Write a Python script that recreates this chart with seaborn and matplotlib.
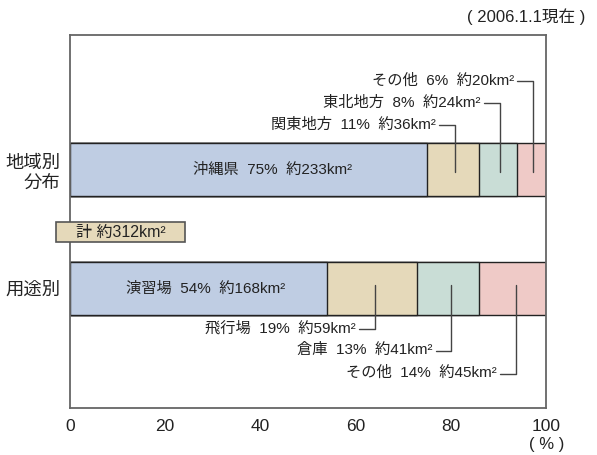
import matplotlib
matplotlib.use("Agg")
import matplotlib.pyplot as plt
import seaborn as sns
import pandas as pd
import numpy as np
from matplotlib.patches import Rectangle

# ---- data -------------------------------------------------------------
groups = ["地域別\n分布", "用途別"]

region_names = ["沖縄県", "関東地方", "東北地方", "その他"]
region_pct = [75, 11, 8, 6]
region_area = [233, 36, 24, 20]

use_names = ["演習場", "飛行場", "倉庫", "その他"]
use_pct = [54, 19, 13, 14]
use_area = [168, 59, 41, 45]

total_area = 312
x_ticks = [0, 20, 40, 60, 80, 100]

seg_colors = ["#bfcde3", "#e5d9ba", "#c9ddd6", "#efcac7"]

# ---- fonts ------------------------------------------------------------
sns.set_theme(style="white")
plt.rcParams["font.family"] = ["Liberation Sans", "Noto Sans CJK JP"]
text_color = "#222222"
frame_color = "#666666"

# ---- build stacked table ---------------------------------------------
rows = []
for g, names, pcts, areas in [(groups[0], region_names, region_pct, region_area),
                              (groups[1], use_names, use_pct, use_area)]:
    cum = np.cumsum(pcts)
    for k, (n, p, a) in enumerate(zip(names, pcts, areas)):
        rows.append(dict(group=g, seg=k, name=n, pct=p, area=a,
                         end=cum[k], start=cum[k] - p))
df = pd.DataFrame(rows)

fig = plt.figure(figsize=(5.97, 4.55), dpi=100)
ax = fig.add_axes([70 / 597, 1 - 408 / 455, 476 / 597, 373 / 455])

bar_h = 0.445
# draw cumulative bars from the last segment to the first so each boundary shows
for k in reversed(range(4)):
    sub = df[df.seg == k]
    sns.barplot(data=sub, x="end", y="group", order=groups, orient="h",
                color=seg_colors[k], saturation=1, width=bar_h,
                edgecolor="#222222", linewidth=1.0, ax=ax, zorder=2)

ax.set_xlim(0, 100)
ax.set_ylim(2.004, -1.130)
ax.set_xlabel("")
ax.set_ylabel("")
ax.set_xticks(x_ticks)
ax.set_xticklabels([str(t) for t in x_ticks], fontsize=12.5, color=text_color)
ax.tick_params(axis="x", direction="in", length=7, width=1, color=frame_color, pad=8)
ax.tick_params(axis="y", length=0, pad=7)
ax.set_yticks([0, 1])
ax.set_yticklabels(groups, fontsize=13.2, color=text_color, linespacing=1.3)
for sp in ax.spines.values():
    sp.set_color(frame_color)
    sp.set_linewidth(1.3)
    sp.set_visible(True)

lbl_fs = 11
line_kw = dict(color="#444444", linewidth=1.0, zorder=5)

def label(r):
    return f"{r['name']}  {r['pct']}%  約{r['area']}km²"

# first segment label inside the bar
first_x = {groups[0]: 42.5, groups[1]: 28.5}
for gi, g in enumerate(groups):
    r = df[(df.group == g) & (df.seg == 0)].iloc[0]
    ax.text(first_x[g], gi, label(r), ha="center", va="center",
            fontsize=lbl_fs, color=text_color, zorder=6)

# leader labels for the remaining segments
top_levels = {1: -0.37, 2: -0.555, 3: -0.74}
bot_levels = {1: 1.34, 2: 1.525, 3: 1.72}
gap = 3.3
for gi, (g, levels) in enumerate([(groups[0], top_levels), (groups[1], bot_levels)]):
    sub = df[df.group == g]
    for k in (1, 2, 3):
        r = sub[sub.seg == k].iloc[0]
        cx = (r["start"] + r["end"]) / 2 + (0.6 if gi == 1 else 0.3)
        ly = levels[k]
        y0 = gi + (0.02 if gi == 0 else -0.03)
        ax.plot([cx, cx, cx - gap], [y0, ly, ly], **line_kw)
        ax.text(cx - gap - 0.7, ly - 0.008, label(r), ha="right", va="center",
                fontsize=lbl_fs, color=text_color, zorder=6)

# total box straddling the left frame
bx0, bx1 = -2.94, 24.16
by0, by1 = 0.441, 0.609
ax.add_patch(Rectangle((bx0, by0), bx1 - bx0, by1 - by0, facecolor=seg_colors[1],
                       edgecolor="#555555", linewidth=1.2, clip_on=False, zorder=7))
ax.text((bx0 + bx1) / 2, (by0 + by1) / 2, f"計 約{total_area}km²", ha="center",
        va="center", fontsize=11.5, color=text_color, zorder=8, clip_on=False)

fig.text(585 / 597, 1 - 17 / 455, "( 2006.1.1現在 )", ha="right", va="center",
         fontsize=12, color=text_color)
fig.text(547 / 597, 1 - 445 / 455, "( % )", ha="center", va="center",
         fontsize=12, color=text_color)

fig.savefig("out.png", dpi=100, facecolor="white")
